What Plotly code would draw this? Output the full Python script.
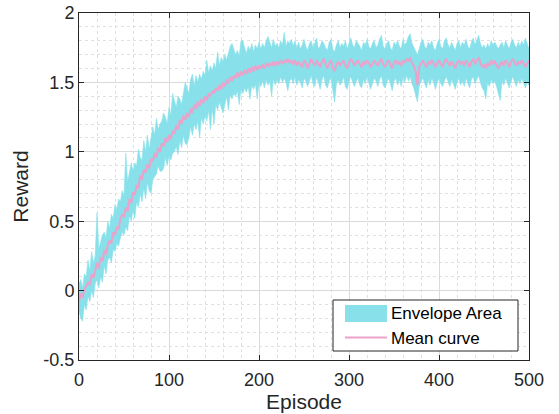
import plotly.graph_objects as go

episodes = list(range(0, 501, 2))

mean_curve = [
    -0.08, -0.02, -0.05, 0.01, 0.03, 0.06, 0.04, 0.12, 0.09, 0.15,
    0.20, 0.16, 0.24, 0.21, 0.29, 0.26, 0.33, 0.36, 0.34, 0.42,
    0.40, 0.46, 0.44, 0.52, 0.55, 0.53, 0.60, 0.57, 0.66, 0.63,
    0.71, 0.69, 0.76, 0.74, 0.83, 0.80, 0.87, 0.85, 0.91, 0.88,
    0.95, 0.93, 0.99, 0.96, 1.03, 1.00, 1.06, 1.04, 1.10, 1.07,
    1.12, 1.09, 1.15, 1.13, 1.19, 1.16, 1.23, 1.20, 1.26, 1.23,
    1.28, 1.25, 1.31, 1.28, 1.34, 1.31, 1.36, 1.33, 1.38, 1.35,
    1.40, 1.37, 1.42, 1.40, 1.44, 1.42, 1.46, 1.44, 1.48, 1.45,
    1.50, 1.47, 1.52, 1.49, 1.54, 1.51, 1.55, 1.53, 1.57, 1.54,
    1.58, 1.55, 1.59, 1.56, 1.60, 1.57, 1.61, 1.58, 1.62, 1.59,
    1.62, 1.60, 1.63, 1.60, 1.64, 1.61, 1.64, 1.62, 1.65, 1.62,
    1.65, 1.63, 1.66, 1.63, 1.66, 1.64, 1.67, 1.64, 1.66, 1.63,
    1.66,
    1.62, 1.65, 1.63, 1.61, 1.66, 1.64, 1.60, 1.63, 1.67, 1.64,
    1.62, 1.66, 1.63, 1.61, 1.65, 1.67, 1.63, 1.60, 1.64, 1.66,
    1.61, 1.58, 1.63, 1.65, 1.62, 1.64, 1.66, 1.62, 1.60, 1.64,
    1.67, 1.65, 1.62, 1.64, 1.66, 1.63, 1.61, 1.65, 1.63, 1.66,
    1.64, 1.61, 1.63, 1.66, 1.64, 1.62, 1.65, 1.67, 1.63, 1.61,
    1.64, 1.66, 1.63, 1.60, 1.64, 1.66, 1.63, 1.65, 1.62, 1.66,
    1.64, 1.67, 1.65, 1.68, 1.64, 1.62, 1.58, 1.48, 1.61, 1.64,
    1.66, 1.63, 1.61, 1.65, 1.63, 1.66, 1.64, 1.61, 1.64, 1.66,
    1.63, 1.61, 1.65, 1.67, 1.64, 1.62, 1.65, 1.63, 1.60, 1.64,
    1.66, 1.63, 1.65, 1.62, 1.66, 1.64, 1.61, 1.65, 1.67, 1.63,
    1.66, 1.68, 1.64, 1.61, 1.63, 1.60, 1.64, 1.62, 1.66, 1.63,
    1.65, 1.62, 1.60, 1.63, 1.65, 1.62, 1.66, 1.64, 1.61, 1.65,
    1.67, 1.64, 1.62, 1.65, 1.63, 1.66, 1.64, 1.61, 1.64, 1.66,
]

upper_env = [
    0.05, 0.08, 0.02, 0.12, 0.10, 0.22, 0.14, 0.28, 0.20, 0.25,
    0.56, 0.30, 0.35, 0.40, 0.42, 0.38, 0.50, 0.45, 0.55, 0.52,
    0.62, 0.58, 0.66, 0.64, 0.72, 0.68, 0.99, 0.78, 0.85, 0.92,
    0.86, 0.92, 0.90, 1.02, 0.96, 0.94, 1.08, 1.00, 1.12, 1.02,
    1.10, 1.18, 1.12, 1.24, 1.16, 1.20, 1.22, 1.28, 1.25, 1.20,
    1.32, 1.26, 1.42, 1.36, 1.32, 1.40, 1.38, 1.34, 1.44, 1.50,
    1.46, 1.42, 1.52, 1.56, 1.47, 1.55, 1.50, 1.56, 1.52, 1.58,
    1.55, 1.66, 1.57, 1.62, 1.58, 1.64, 1.60, 1.72, 1.62, 1.68,
    1.65, 1.70, 1.66, 1.72, 1.76, 1.78, 1.74, 1.70, 1.73, 1.69,
    1.80, 1.80, 1.75, 1.71, 1.76, 1.73, 1.78, 1.72, 1.77, 1.74,
    1.79, 1.74, 1.78, 1.75, 1.80, 1.83, 1.79, 1.75, 1.81, 1.76,
    1.78, 1.75, 1.80, 1.77, 1.86, 1.76, 1.80, 1.78, 1.81, 1.76,
    1.80,
    1.75, 1.79, 1.74, 1.77, 1.81, 1.76, 1.73, 1.78, 1.80, 1.75,
    1.78, 1.82, 1.74, 1.76, 1.80, 1.78, 1.75, 1.73, 1.79, 1.81,
    1.74, 1.72, 1.77, 1.80, 1.75, 1.78, 1.76, 1.80, 1.74, 1.79,
    1.82, 1.77, 1.75, 1.80, 1.78, 1.76, 1.73, 1.79, 1.77, 1.81,
    1.76, 1.74, 1.78, 1.80, 1.75, 1.77, 1.81, 1.84, 1.76, 1.74,
    1.78, 1.80, 1.75, 1.73, 1.79, 1.77, 1.80, 1.76, 1.74, 1.81,
    1.77, 1.79, 1.83, 1.85, 1.78, 1.75, 1.72, 1.70, 1.74, 1.79,
    1.81, 1.76, 1.74, 1.79, 1.77, 1.80, 1.75, 1.73, 1.78, 1.81,
    1.76, 1.74, 1.80, 1.82, 1.77, 1.75, 1.79, 1.76, 1.73, 1.78,
    1.80, 1.75, 1.79, 1.77, 1.81, 1.76, 1.74, 1.79, 1.82, 1.77,
    1.80, 1.84, 1.78, 1.75, 1.77, 1.74, 1.78, 1.75, 1.80, 1.77,
    1.79, 1.76, 1.74, 1.77, 1.79, 1.75, 1.80, 1.77, 1.74, 1.79,
    1.81, 1.77, 1.75, 1.79, 1.76, 1.80, 1.77, 1.82, 1.78, 1.74,
]

lower_env = [
    -0.15, -0.20, -0.22, -0.10, -0.14, -0.04, -0.08, 0.00, -0.05, 0.05,
    0.08, 0.02, 0.10, 0.06, 0.18, 0.12, 0.22, 0.24, 0.20, 0.30,
    0.28, 0.34, 0.32, 0.38, 0.42, 0.40, 0.46, 0.43, 0.54, 0.50,
    0.58, 0.52, 0.64, 0.60, 0.70, 0.64, 0.74, 0.66, 0.78, 0.72,
    0.70, 0.80, 0.82, 0.84, 0.90, 0.86, 0.86, 0.88, 0.96, 0.90,
    0.97, 0.94, 0.99, 1.00, 1.04, 0.98, 1.08, 1.03, 1.12, 1.06,
    1.05, 1.10, 1.18, 1.12, 1.20, 1.16, 1.22, 1.10, 1.25, 1.20,
    1.26, 1.22, 1.30, 1.16, 1.31, 1.20, 1.34, 1.30, 1.36, 1.32,
    1.28, 1.34, 1.40, 1.30, 1.41, 1.38, 1.42, 1.40, 1.44, 1.34,
    1.45, 1.42, 1.46, 1.43, 1.47, 1.38, 1.48, 1.45, 1.49, 1.38,
    1.50, 1.47, 1.51, 1.46, 1.52, 1.48, 1.51, 1.40, 1.53, 1.48,
    1.52, 1.49, 1.54, 1.50, 1.53, 1.50, 1.44, 1.51, 1.53, 1.49,
    1.54,
    1.48, 1.52, 1.50, 1.46, 1.53, 1.51, 1.47, 1.50, 1.55, 1.49,
    1.47, 1.54, 1.50, 1.45, 1.52, 1.55, 1.48, 1.46, 1.51, 1.53,
    1.44, 1.36, 1.49, 1.52, 1.48, 1.50, 1.54, 1.47, 1.45, 1.51,
    1.54, 1.50, 1.47, 1.51, 1.53, 1.48, 1.46, 1.52, 1.49, 1.54,
    1.50, 1.45, 1.49, 1.53, 1.51, 1.47, 1.52, 1.55, 1.48, 1.46,
    1.50, 1.53, 1.49, 1.44, 1.51, 1.53, 1.48, 1.52, 1.47, 1.54,
    1.50, 1.55, 1.51, 1.54, 1.49, 1.46, 1.42, 1.36, 1.47, 1.51,
    1.53, 1.49, 1.46, 1.52, 1.48, 1.53, 1.50, 1.45, 1.50, 1.53,
    1.49, 1.47, 1.51, 1.54, 1.50, 1.47, 1.52, 1.49, 1.45, 1.50,
    1.53, 1.48, 1.51, 1.47, 1.53, 1.50, 1.46, 1.52, 1.54, 1.49,
    1.52, 1.55, 1.50, 1.46, 1.44, 1.38, 1.50, 1.47, 1.52, 1.49,
    1.51, 1.47, 1.43, 1.37, 1.51, 1.48, 1.53, 1.50, 1.46, 1.51,
    1.54, 1.50, 1.47, 1.52, 1.49, 1.53, 1.50, 1.46, 1.50, 1.48,
]

series_names = ["Envelope Area", "Mean curve"]
x_ticks = [0, 100, 200, 300, 400, 500]
y_ticks = [-0.5, 0, 0.5, 1, 1.5, 2]
y_tick_labels = ["-0.5", "0", "0.5", "1", "1.5", "2"]

n = min(len(episodes), len(mean_curve), len(upper_env), len(lower_env))
ep = episodes[:n]

CYAN = "#87E0EA"
PINK = "#EBA2CB"
FONT = "Liberation Sans, Arial, sans-serif"
AX = "#262626"

# figure geometry (page body margin removed via post_script)
W, H = 559, 414
ML, MR, MT, MB = 79, 30, 13, 54


def px(xp):
    return (xp - ML) / (W - ML - MR)


def py(yp):
    return (H - MB - yp) / (H - MT - MB)


fig = go.Figure()
fig.add_trace(go.Scatter(
    x=ep + ep[::-1],
    y=upper_env[:n] + lower_env[:n][::-1],
    fill="toself", fillcolor=CYAN,
    line=dict(color=CYAN, width=0.6),
    mode="lines", name=series_names[0], hoverinfo="skip",
))
fig.add_trace(go.Scatter(
    x=ep, y=mean_curve[:n], mode="lines", name=series_names[1],
    line=dict(color=PINK, width=2),
))

axis_common = dict(
    showline=True, linecolor=AX, linewidth=1, mirror="ticks",
    ticks="inside", ticklen=5, tickcolor=AX,
    showgrid=True, gridcolor="#DADADA", gridwidth=1,
    zeroline=False, automargin=False,
    ticklabeloverflow="allow",
    tickfont=dict(family=FONT, size=18, color=AX),
)

fig.update_xaxes(
    range=[0, 500], tickvals=x_ticks, ticklabelstandoff=3,
    minor=dict(dtick=20, tick0=0, showgrid=True, gridcolor="#E0E0E0",
               griddash="dot", gridwidth=1, ticks=""),
    title=dict(text="Episode", font=dict(family=FONT, size=21, color=AX), standoff=3),
    **axis_common,
)
fig.update_yaxes(
    range=[-0.5, 2], tickvals=y_ticks, ticktext=y_tick_labels,
    minor=dict(dtick=0.1, tick0=0, showgrid=True, gridcolor="#E0E0E0",
               griddash="dot", gridwidth=1, ticks=""),
    title=dict(text="Reward", font=dict(family=FONT, size=21, color=AX), standoff=9),
    **axis_common,
)

# boxed key (positions in page pixels, converted to paper fractions)
shapes = [
    dict(type="rect", xref="paper", yref="paper",
         x0=px(333), x1=px(518), y0=py(351), y1=py(300),
         line=dict(color=AX, width=1), fillcolor="white", layer="above"),
    dict(type="rect", xref="paper", yref="paper",
         x0=px(345), x1=px(387), y0=py(322), y1=py(305),
         line=dict(width=0), fillcolor=CYAN, layer="above"),
    dict(type="line", xref="paper", yref="paper",
         x0=px(345), x1=px(387), y0=py(337.5), y1=py(337.5),
         line=dict(color=PINK, width=2), layer="above"),
]
annotations = [
    dict(text=series_names[0], xref="paper", yref="paper", x=px(389), y=py(313.5),
         xanchor="left", yanchor="middle", showarrow=False,
         font=dict(family=FONT, size=17, color="#000000")),
    dict(text=series_names[1], xref="paper", yref="paper", x=px(389), y=py(338.5),
         xanchor="left", yanchor="middle", showarrow=False,
         font=dict(family=FONT, size=17, color="#000000")),
]

fig.update_layout(
    width=W, height=H,
    margin=dict(l=ML, r=MR, t=MT, b=MB),
    paper_bgcolor="white", plot_bgcolor="white",
    showlegend=False,
    shapes=shapes, annotations=annotations,
)

fig.write_html(
    "out.html",
    config={"displayModeBar": False},
    post_script="document.body.style.margin='0';document.body.style.overflow='hidden';",
)
